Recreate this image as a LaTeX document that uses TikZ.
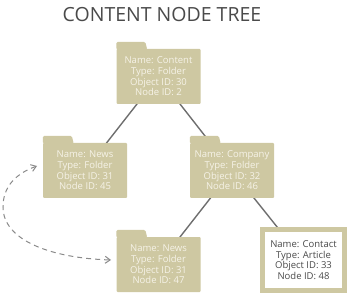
\documentclass[tikz,border=0pt]{standalone}
\usepackage{fontspec}
\setmainfont{Open Sans}
\usetikzlibrary{backgrounds,arrows.meta}
\definecolor{khaki}{HTML}{CEC8A2}
\definecolor{foldertext}{HTML}{F6F3E8}
\definecolor{linegray}{HTML}{6E6E6E}
\definecolor{dashgray}{HTML}{8A8A8A}
\definecolor{titlegray}{HTML}{4A4A4A}
\tikzset{
  folder/.style={fill=khaki, text=foldertext, align=center, inner sep=0pt,
    minimum width=84pt, minimum height=55pt, rounded corners=1pt,
    font=\fontsize{9.5}{10.7}\selectfont},
  article/.style={fill=white, draw=khaki, line width=5pt, text=titlegray, align=center,
    inner sep=0pt, minimum width=82pt, minimum height=61pt,
    font=\fontsize{9.5}{10.7}\selectfont},
  tree/.style={draw=linegray, line width=1.4pt},
  link/.style={draw=dashgray, line width=1pt, dash pattern=on 5pt off 4pt,
    {Straight Barb[length=5pt,width=7pt]}-{Straight Barb[length=5pt,width=7pt]}},
}
\newcommand{\foldertab}[1]{\fill[khaki, rounded corners=1.5pt] ([yshift=-1pt]#1.north west) -- ++(0,-8) -- ++(29,0) -- ++(2,8) -- cycle;}
\begin{document}
\begin{tikzpicture}[x=1pt,y=-1pt]
\path[use as bounding box] (0,0) rectangle (350,296);
\node[text=titlegray, font=\fontsize{19.5}{22}\selectfont] (title) at (162,15) {CONTENT NODE TREE};
\node[folder] (content) at (158.5,76.5) {Name: Content\\Type: Folder\\Object ID: 30\\Node ID: 2};
\node[folder] (news45) at (85,170.5) {Name: News\\Type: Folder\\Object ID: 31\\Node ID: 45};
\node[folder] (company) at (232,170.5) {Name: Company\\Type: Folder\\Object ID: 32\\Node ID: 46};
\node[folder] (news47) at (158.5,264.5) {Name: News\\Type: Folder\\Object ID: 31\\Node ID: 47};
\node[article] (contact) at (303.5,260) {Name: Contact\\Type: Article\\Object ID: 33\\Node ID: 48};
\foldertab{content}
\foldertab{news45}
\foldertab{company}
\foldertab{news47}
\coordinate (la) at (37,166);
\coordinate (lm) at (3,207);
\coordinate (lb) at (111,260);
\begin{scope}[on background layer]
\draw[tree] (content.center) -- (news45.center);
\draw[tree] (content.center) -- (company.center);
\draw[tree] (company.center) -- (news47.center);
\draw[tree] (company.center) -- (contact.center);
\end{scope}
\draw[link] (la) .. controls (12,175) and (3,190) .. (lm) .. controls (3,240) and (50,258) .. (lb);
\end{tikzpicture}
\end{document}
